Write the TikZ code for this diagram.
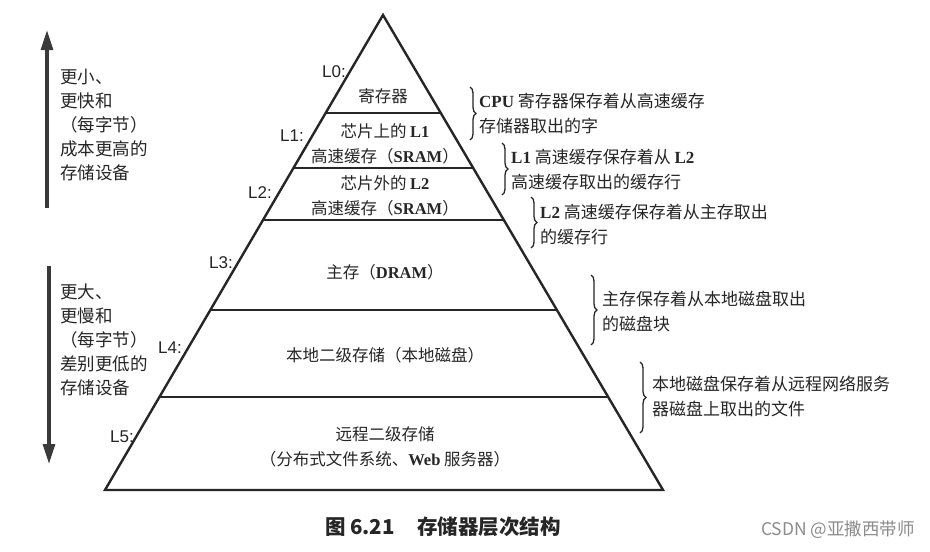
\documentclass[tikz,border=0pt]{standalone}
\usepackage{fontspec}
\setmainfont{Liberation Serif}
\newfontfamily\cjk{Noto Sans CJK SC}
\newfontfamily\lsans{Liberation Sans}
\usetikzlibrary{decorations.pathreplacing,arrows.meta}
\definecolor{ink}{HTML}{262626}
\definecolor{arrowgray}{HTML}{3A3A3A}
\newcommand\latb[1]{{\rmfamily\bfseries #1}}
\begin{document}
\begin{tikzpicture}[x=1pt,y=-1pt,
  edge/.style={line width=2.4pt, draw=ink, line join=miter},
  layertext/.style={font=\cjk\fontsize{16.5}{25}\selectfont, text=ink, align=center, inner sep=0pt},
  sidetext/.style={font=\cjk\fontsize{17}{25}\selectfont, text=ink, align=left, anchor=west, inner sep=0pt},
  lefttext/.style={font=\cjk\fontsize{17.5}{24}\selectfont, text=ink, align=left, anchor=west, inner sep=0pt},
  levellabel/.style={font=\lsans\fontsize{17}{17}\selectfont, text=ink, inner sep=0pt},
  bracestyle/.style={decorate, decoration={brace, amplitude=6pt}, line width=1.3pt, draw=ink},
  bigarrow/.style={line width=3.2pt, draw=arrowgray, -{Triangle[length=20pt,width=12pt]}},
]
\fill[white] (0,0) rectangle (930,552);
\useasboundingbox (0,0) rectangle (930,552);

% pyramid
\coordinate (apex) at (383,15);
\coordinate (bl) at (105,490);
\coordinate (br) at (663,490);
\draw[edge] (bl) -- (apex) -- (br) -- cycle;
\draw[edge] (325.6,113) -- (440.4,113);
\draw[edge] (293.5,168) -- (472.5,168);
\draw[edge] (263,220) -- (503,220);
\draw[edge] (210.3,310) -- (555.7,310);
\draw[edge] (159.4,397) -- (606.6,397);

% layer texts
\node[layertext] (l0) at (383,96) {寄存器};
\node[layertext] (l1) at (385,144) {芯片上的 \latb{L1}\\高速缓存（\latb{SRAM}）};
\node[layertext] (l2) at (385,196) {芯片外的 \latb{L2}\\高速缓存（\latb{SRAM}）};
\node[layertext] (l3) at (385,272) {主存（\latb{DRAM}）};
\node[layertext] (l4) at (385,355) {本地二级存储（本地磁盘）};
\node[layertext] (l5) at (385,447) {远程二级存储\\（分布式文件系统、\latb{Web} 服务器）};

% level labels
\node[levellabel] (L0) at (334,72) {L0:};
\node[levellabel] (L1) at (292,136) {L1:};
\node[levellabel] (L2) at (260,193) {L2:};
\node[levellabel] (L3) at (221,263) {L3:};
\node[levellabel] (L4) at (170,348) {L4:};
\node[levellabel] (L5) at (122,437) {L5:};

% braces and notes
\draw[bracestyle] (470,87) -- (470,140);
\node[sidetext] (n1) at (479,113.5) {\latb{CPU} 寄存器保存着从高速缓存\\存储器取出的字};
\draw[bracestyle] (502,143) -- (502,195);
\node[sidetext] (n2) at (511,169.5) {\latb{L1} 高速缓存保存着从 \latb{L2}\\高速缓存取出的缓存行};
\draw[bracestyle] (531,197) -- (531,248);
\node[sidetext] (n3) at (540,224.5) {\latb{L2} 高速缓存保存着从主存取出\\的缓存行};
\draw[bracestyle] (591,275) -- (591,345);
\node[sidetext] (n4) at (602,311) {主存保存着从本地磁盘取出\\的磁盘块};
\draw[bracestyle] (640,362) -- (640,433);
\node[sidetext] (n5) at (652,396) {本地磁盘保存着从远程网络服务\\器磁盘上取出的文件};

% left arrows and texts
\coordinate (upS) at (47,208);
\coordinate (upE) at (47,30);
\draw[bigarrow] (upS) -- (upE);
\node[lefttext] (tu) at (60,125) {更小、\\更快和\\（每字节）\\成本更高的\\存储设备};
\coordinate (dnS) at (49,266);
\coordinate (dnE) at (49,464);
\draw[bigarrow] (dnS) -- (dnE);
\node[lefttext] (td) at (60,340) {更大、\\更慢和\\（每字节）\\差别更低的\\存储设备};

% caption and watermark
\node[font=\cjk\bfseries\fontsize{20.5}{21}\selectfont, text=ink, inner sep=0pt] (cap) at (443,527) {图 6.21\hspace{1.1em}存储器层次结构};
\node[font=\cjk\fontsize{17.5}{18}\selectfont, text=black!45, anchor=east, inner sep=0pt] (wm) at (915,530) {CSDN @亚撒西带师};
\end{tikzpicture}
\end{document}
